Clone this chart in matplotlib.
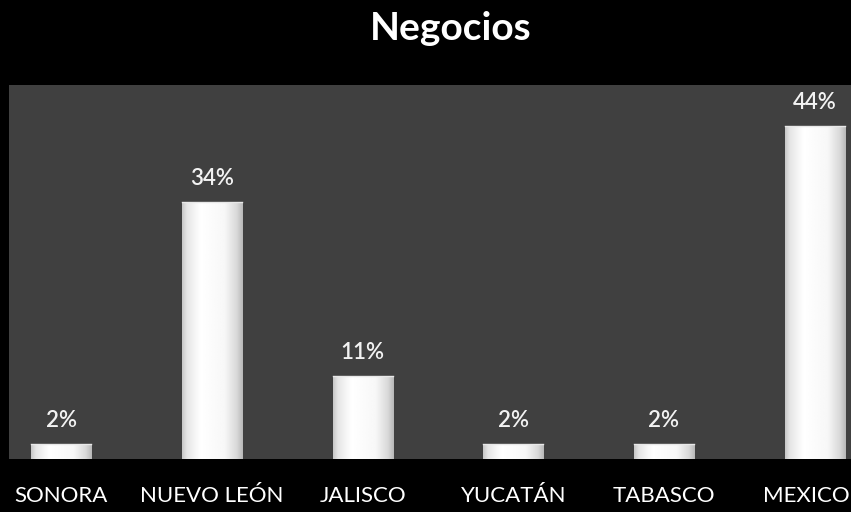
import numpy as np
import matplotlib
matplotlib.use("Agg")
import matplotlib.pyplot as plt

categories = ["SONORA", "NUEVO LEÓN", "JALISCO", "YUCATÁN", "TABASCO", "MEXICO"]
values = [2, 34, 11, 2, 2, 44]
labels = ["2%", "34%", "11%", "2%", "2%", "44%"]
title = "Negocios"

W, H = 851, 512
fig = plt.figure(figsize=(W / 100, H / 100), dpi=100, facecolor="black")

# gray plot background
bg = fig.add_axes([9 / W, (H - 459) / H, 1 - 9 / W, (459 - 85) / H], zorder=-1)
bg.set_facecolor("#404040")
bg.set_xticks([])
bg.set_yticks([])
for s in bg.spines.values():
    s.set_visible(False)

ax = fig.add_axes([-14 / W, (H - 459) / H, 904 / W, (459 - 85) / H])
ax.set_facecolor("none")
ax.set_xlim(-0.5, len(categories) - 0.5)
ax.set_ylim(0, 49.4)
for s in ax.spines.values():
    s.set_visible(False)
ax.set_yticks([])
ax.set_xticks([])

x = np.arange(len(categories))
bars = ax.bar(x, values, width=0.4, color="white", edgecolor="none", zorder=2)

# gradient fill for bevel look
t = np.linspace(0, 1, 200)
prof = np.interp(t, [0, 0.08, 0.3, 0.7, 0.9, 1.0], [0.78, 0.9, 1.0, 0.97, 0.85, 0.72])
grad = np.tile(prof, (2, 1))
for b in bars:
    x0, y0 = b.get_x(), b.get_y()
    w, h = b.get_width(), b.get_height()
    im = ax.imshow(grad, cmap="gray", vmin=0, vmax=1, aspect="auto",
                   extent=[x0, x0 + w, y0, y0 + h], zorder=3, interpolation="bilinear")
    im.set_clip_path(b)
    ax.plot([x0, x0 + w], [y0 + h, y0 + h], color="#e8e8e8", lw=1, zorder=4)

for xi, v, lab in zip(x, values, labels):
    ax.annotate(lab, (xi, v), xytext=(0, 9), textcoords="offset points",
                ha="center", va="bottom", color="#f2f2f2", fontsize=16,
                fontweight="semibold", family="Lato", zorder=5)

for i, (xi, c) in enumerate(zip(x, categories)):
    if i == len(categories) - 1:
        fig.text(1 - 1 / W, 1 - 496 / H, c, ha="right", va="center", color="white",
                 fontsize=16, family="Lato")
    else:
        ax.text(xi, -4.9, c, ha="center", va="center", color="white",
                fontsize=16, family="Lato", clip_on=False)

fig.text(451 / W, 1 - 28 / H, title, ha="center", va="center", color="white",
         fontsize=28, fontweight="bold", family="Lato")

fig.savefig("out.png", dpi=100, facecolor="black")
